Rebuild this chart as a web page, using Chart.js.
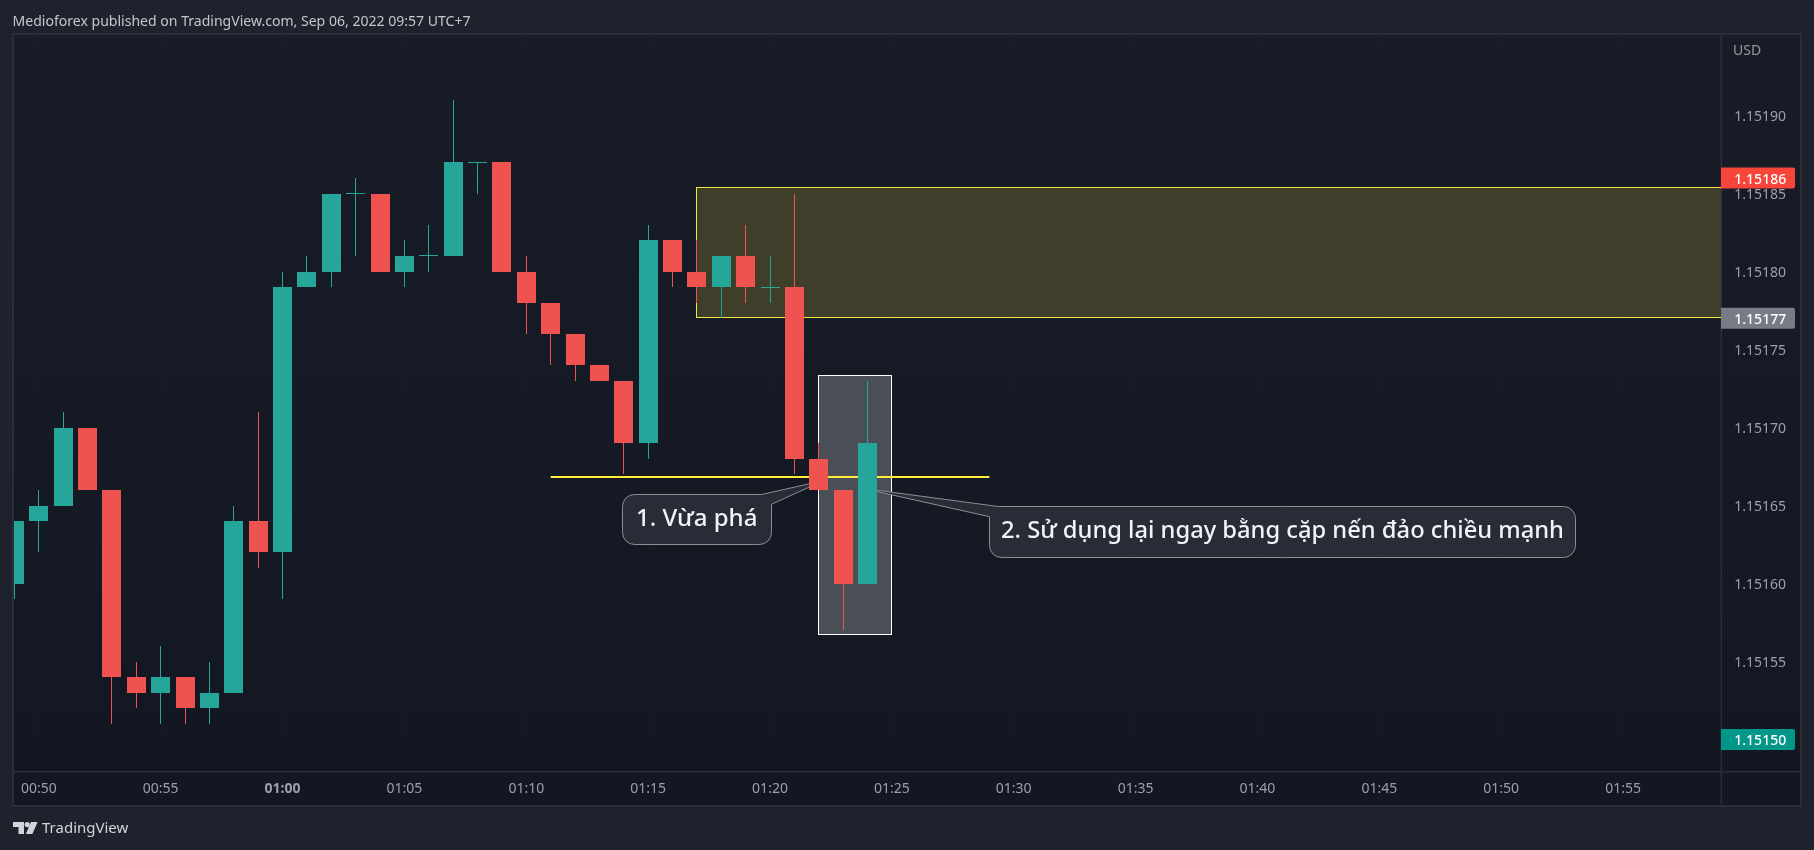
<!DOCTYPE html>
<html><head><meta charset="utf-8">
<style>html,body{margin:0;padding:0;background:#1e222d;overflow:hidden}canvas{display:block}</style>
<script src="https://cdn.jsdelivr.net/npm/chart.js@4"></script>
</head><body>
<div style="position:relative;width:1814px;height:850px"><canvas id="c" width="1814" height="850"></canvas></div>
<script>
const minutes=[-1,0,1,2,3,4,5,6,7,8,9,10,11,12,13,14,15,16,17,18,19,20,21,22,23,24,25,26,27,28,29,30,31,32,33,34];
const opens =[1.15160,1.15164,1.15165,1.15170,1.15166,1.15154,1.15153,1.15154,1.15152,1.15153,1.15164,1.15162,1.15179,1.15180,1.15185,1.15185,1.15180,1.15181,1.15181,1.15187,1.15187,1.15180,1.15178,1.15176,1.15174,1.15173,1.15169,1.15182,1.15180,1.15179,1.15181,1.15179,1.15179,1.15168,1.15166,1.15160];
const closes=[1.15164,1.15165,1.15170,1.15166,1.15154,1.15153,1.15154,1.15152,1.15153,1.15164,1.15162,1.15179,1.15180,1.15185,1.15185,1.15180,1.15181,1.15181,1.15187,1.15187,1.15180,1.15178,1.15176,1.15174,1.15173,1.15169,1.15182,1.15180,1.15179,1.15181,1.15179,1.15179,1.15168,1.15166,1.15160,1.15169];
const highs =[1.15164,1.15166,1.15171,1.15170,1.15166,1.15155,1.15156,1.15154,1.15155,1.15165,1.15171,1.15180,1.15181,1.15185,1.15186,1.15185,1.15182,1.15183,1.15191,1.15187,1.15187,1.15181,1.15178,1.15176,1.15174,1.15173,1.15183,1.15182,1.15182,1.15181,1.15183,1.15181,1.15185,1.15169,1.15166,1.15173];
const lows  =[1.15159,1.15162,1.15165,1.15166,1.15151,1.15152,1.15151,1.15151,1.15151,1.15153,1.15161,1.15159,1.15179,1.15179,1.15181,1.15180,1.15179,1.15180,1.15181,1.15185,1.15180,1.15176,1.15174,1.15173,1.15173,1.15167,1.15168,1.15179,1.15178,1.15177,1.15178,1.15178,1.15167,1.15166,1.15157,1.15160];
const timeTicks=[0,5,10,15,20,25,30,35,40,45,50,55,60,65];
const timeLabels=['00:50','00:55','01:00','01:05','01:10','01:15','01:20','01:25','01:30','01:35','01:40','01:45','01:50','01:55'];
const priceTicks=[1.15155,1.15160,1.15165,1.15170,1.15175,1.15180,1.15185,1.15190];
const priceTags=[1.15186,1.15177,1.15150];
const tagColors=['#f7453a','#787b86','#009688'];
const zoneBox=[27,71,1.151854,1.1517706];
const focusBox=[32,35,1.1517335,1.1515674];
const levelLine=[21,39,1.1516683];
const callout1=[32.2,1.151666];
const callout2=[33.8,1.151661];
const headerText='Medioforex published on TradingView.com, Sep 06, 2022 09:57 UTC+7';
const note1='1. Vừa phá', note2='2. Sử dụng lại ngay bằng cặp nến đảo chiều mạnh';
const UP='#26a69a', DOWN='#ef5350', FONT='"Noto Sans"';
const colorOf=(i)=>closes[i]>=opens[i]?UP:DOWN;
const wickData=minutes.map((m,i)=>({x:m,y:[lows[i],highs[i]]}));
const bodyData=minutes.map((m,i)=>{
  const lo=Math.min(opens[i],closes[i]),hi=Math.max(opens[i],closes[i]);
  return {x:m,y: hi-lo<1e-6?[lo-0.00000032,hi+0.00000032]:[lo,hi]};
});
const crisp=(v)=>Math.floor(v)+0.5;
const snapBars={id:'snapBars',afterDatasetsUpdate(ch){
  // pixel-align every candle to whole device pixels, as the original renderer does
  const wicks=ch.getDatasetMeta(0).data, bodies=ch.getDatasetMeta(1).data;
  bodies.forEach((b,i)=>{
    const left=Math.round(b.x-9.5), cx=left+9.5, w=wicks[i];
    b.x=cx; w.x=cx;
    [b,w].forEach(e=>{
      e.y=Math.round(e.y); e.base=Math.round(e.base);
      if(Math.abs(e.base-e.y)<1) e.base=e.y+1;
      e.height=Math.abs(e.base-e.y);
    });
  });
}};
const backdrop={id:'backdrop',beforeDraw(ch){
  const g=ch.ctx;
  g.save();
  g.fillStyle='#1e222d';g.fillRect(0,0,1814,850);
  const gr=g.createLinearGradient(0,34,0,806);
  gr.addColorStop(0,'#181c27');gr.addColorStop(1,'#131722');
  g.fillStyle=gr;g.fillRect(13,34,1788,772);
  g.strokeStyle='#2a2e39';g.lineWidth=2;g.strokeRect(13,34,1788,772);
  g.lineWidth=1.5;
  g.beginPath();g.moveTo(1721.3,34);g.lineTo(1721.3,806);g.moveTo(13,771.7);g.lineTo(1801,771.7);g.stroke();
  g.fillStyle='#d1d4dc';
  g.beginPath();g.moveTo(13,822);g.lineTo(24,822);g.lineTo(24,834);g.lineTo(18.5,834);g.lineTo(18.5,827);g.lineTo(13,827);g.closePath();g.fill();
  g.beginPath();g.arc(27.2,824.6,2.6,0,Math.PI*2);g.fill();
  g.beginPath();g.moveTo(31,822);g.lineTo(37.6,822);g.lineTo(32.4,834);g.lineTo(25.8,834);g.closePath();g.fill();
  g.font='15px '+FONT;g.textBaseline='middle';g.textAlign='left';g.fillStyle='#d1d4dc';
  g.fillText('TradingView',42,829);
  g.font='14.05px '+FONT;g.fillStyle='#c3c6ce';
  g.fillText(headerText,12.5,21.5);
  g.restore();
}};
const drawings={id:'drawings',beforeDatasetsDraw(ch){
  const g=ch.ctx,X=ch.scales.x,Y=ch.scales.y,A=ch.chartArea;
  g.save();
  g.beginPath();g.rect(A.left,A.top,A.right-A.left,A.bottom-A.top);g.clip();
  let x0=crisp(X.getPixelForValue(zoneBox[0])),x1=A.right+3,y0=crisp(Y.getPixelForValue(zoneBox[2])),y1=crisp(Y.getPixelForValue(zoneBox[3]));
  g.fillStyle='#3e3e2a';g.fillRect(x0,y0,x1-x0,y1-y0);
  g.strokeStyle='#f5e642';g.lineWidth=1;g.strokeRect(x0,y0,x1-x0,y1-y0);
  x0=crisp(X.getPixelForValue(focusBox[0]));x1=crisp(X.getPixelForValue(focusBox[1]));y0=crisp(Y.getPixelForValue(focusBox[2]));y1=crisp(Y.getPixelForValue(focusBox[3]));
  g.fillStyle='#4a4e57';g.fillRect(x0,y0,x1-x0,y1-y0);
  g.strokeStyle='#ffffff';g.lineWidth=1;g.strokeRect(x0,y0,x1-x0,y1-y0);
  g.strokeStyle='#ffeb3b';g.lineWidth=2;g.beginPath();
  const ly=Math.round(Y.getPixelForValue(levelLine[2]));
  g.moveTo(X.getPixelForValue(levelLine[0]),ly);g.lineTo(X.getPixelForValue(levelLine[1]),ly);g.stroke();
  const fill='#282c36',edge='#8a8d96';
  const c1={x0:622.5,y0:494.5,x1:771.5,y1:544.5,r:12};
  const t1=[X.getPixelForValue(callout1[0]),Y.getPixelForValue(callout1[1])];
  g.beginPath();g.moveTo(c1.x0+c1.r,c1.y0);g.lineTo(761.7,c1.y0);g.lineTo(t1[0],t1[1]);g.lineTo(c1.x1,504.3);
  g.lineTo(c1.x1,c1.y1-c1.r);g.arcTo(c1.x1,c1.y1,c1.x1-c1.r,c1.y1,c1.r);g.lineTo(c1.x0+c1.r,c1.y1);
  g.arcTo(c1.x0,c1.y1,c1.x0,c1.y1-c1.r,c1.r);g.lineTo(c1.x0,c1.y0+c1.r);g.arcTo(c1.x0,c1.y0,c1.x0+c1.r,c1.y0,c1.r);g.closePath();
  g.fillStyle=fill;g.fill();g.strokeStyle=edge;g.lineWidth=1;g.stroke();
  const c2={x0:989.5,y0:506.5,x1:1575.5,y1:557.5,r:12};
  const t2=[X.getPixelForValue(callout2[0]),Y.getPixelForValue(callout2[1])];
  g.beginPath();g.moveTo(998.3,c2.y0);g.lineTo(c2.x1-c2.r,c2.y0);g.arcTo(c2.x1,c2.y0,c2.x1,c2.y0+c2.r,c2.r);
  g.lineTo(c2.x1,c2.y1-c2.r);g.arcTo(c2.x1,c2.y1,c2.x1-c2.r,c2.y1,c2.r);g.lineTo(c2.x0+c2.r,c2.y1);
  g.arcTo(c2.x0,c2.y1,c2.x0,c2.y1-c2.r,c2.r);g.lineTo(c2.x0,516.7);g.lineTo(t2[0],t2[1]);g.closePath();
  g.fillStyle=fill;g.fill();g.strokeStyle=edge;g.stroke();
  g.fillStyle='#f0f3fa';g.textAlign='left';g.textBaseline='middle';
  g.font='500 24px '+FONT;g.fillText(note1,636,519.5);
  g.font='500 23.7px '+FONT;g.fillText(note2,1001,531.5);
  g.restore();
}};
const axisExtras={id:'axisExtras',afterDraw(ch){
  const g=ch.ctx,Y=ch.scales.y;
  g.save();g.textBaseline='middle';g.textAlign='left';
  g.font='14px '+FONT;g.fillStyle='#9598a1';g.fillText('USD',1733,51);
  priceTags.forEach((p,i)=>{
    const y=Y.getPixelForValue(p);
    g.fillStyle=tagColors[i];g.beginPath();g.roundRect(1721,y-10.5,74,21,[0,2,2,0]);g.fill();
    g.fillStyle='#ffffff';g.font='500 14px '+FONT;g.fillText(p.toFixed(5),1734.3,y+1.7);
  });
  g.restore();
}};
new Chart(document.getElementById('c'),{
  type:'bar',
  data:{datasets:[
    {label:'Wick',data:wickData,barThickness:1,inflateAmount:0,grouped:false,order:2,
     backgroundColor:minutes.map((m,i)=>colorOf(i))},
    {label:'Body',data:bodyData,barThickness:19,inflateAmount:0,grouped:false,order:1,
     backgroundColor:minutes.map((m,i)=>colorOf(i))}
  ]},
  options:{
    responsive:false,animation:false,devicePixelRatio:1,
    layout:{padding:{left:14,top:35,right:1814-1801,bottom:850-806}},
    plugins:{legend:{display:false},tooltip:{enabled:false}},
    scales:{
      x:{type:'linear',offset:false,min:-1.0174,max:69.03,
        afterBuildTicks(a){a.ticks=timeTicks.map(v=>({value:v}));},
        afterFit(a){a.height=34.5;},
        grid:{offset:false,color:'rgba(255,255,255,0.006)',drawTicks:false,lineWidth:1},
        border:{display:false},
        ticks:{autoSkip:false,maxRotation:0,padding:9,color:'#9ca0ab',
          font:(c)=>({family:'"Noto Sans"',size:14,weight:c.index===2?'700':'400'}),
          callback:(v)=>timeLabels[timeTicks.indexOf(v)]}},
      y:{position:'right',min:1.1514795,max:1.1519516,
        afterBuildTicks(a){a.ticks=priceTicks.map(v=>({value:v}));},
        afterFit(a){a.width=79.7;},
        grid:{color:'rgba(255,255,255,0.006)',drawTicks:false,lineWidth:1},
        border:{display:false},
        ticks:{padding:13,color:'#9ca0ab',font:{family:'"Noto Sans"',size:14,lineHeight:'3px'},
          callback:(v)=>['',Number(v).toFixed(5)]}}
    }
  },
  plugins:[snapBars,backdrop,drawings,axisExtras]
});
</script>
</body></html>
